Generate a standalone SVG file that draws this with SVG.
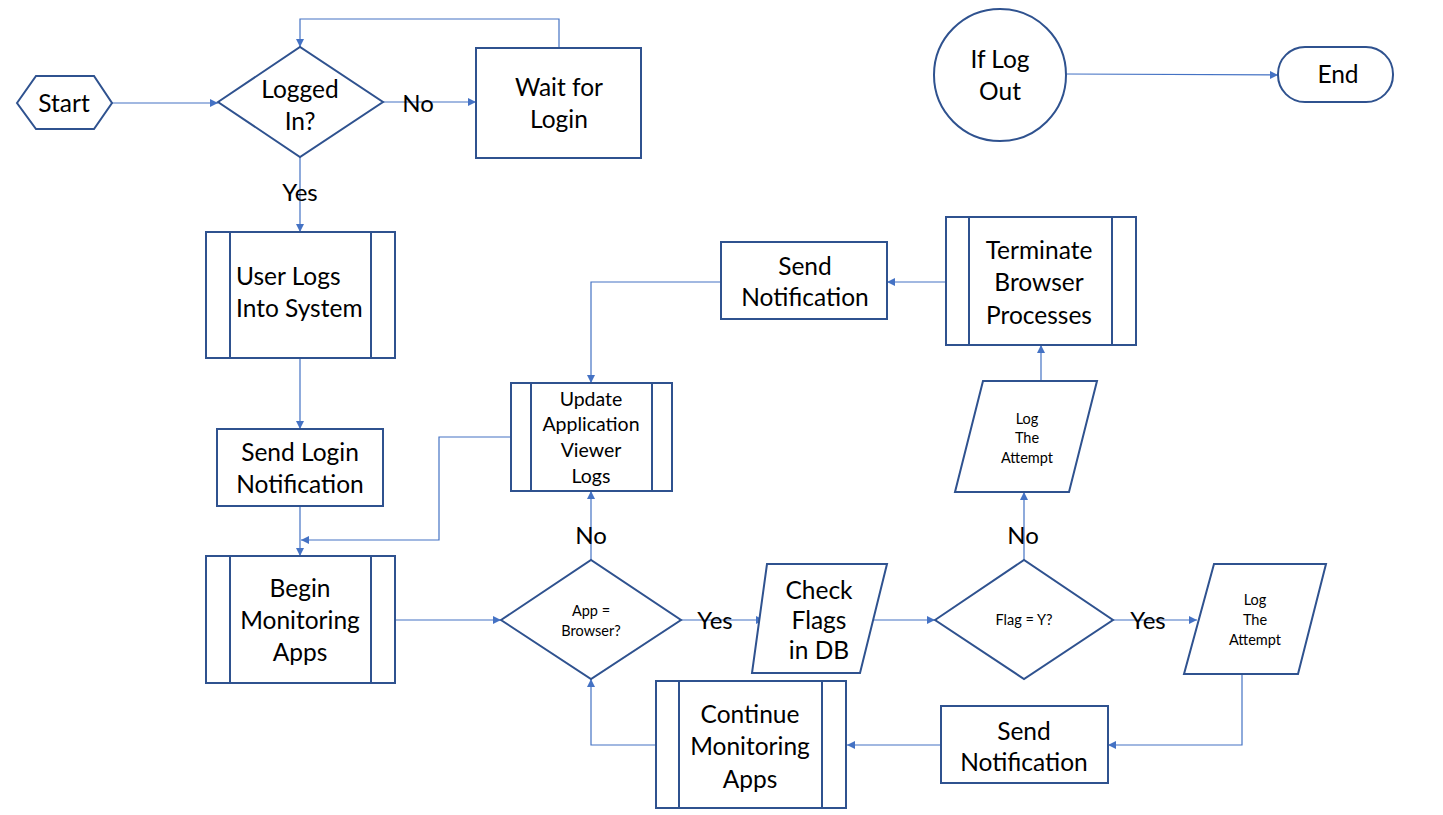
<svg xmlns="http://www.w3.org/2000/svg" width="1443" height="815" viewBox="0 0 1443 815">
<style>
.n{fill:#fff;stroke:#2F528F;stroke-width:2}
.il{stroke:#2F528F;stroke-width:2;fill:none}
.c{fill:none;stroke:#4472C4;stroke-width:1.2}
text{font-family:Lato,"Liberation Sans",sans-serif;fill:#000;text-anchor:middle;dominant-baseline:central}
.b{font-size:24.5px}
.m{font-size:19.5px}
.s{font-size:14.5px}
.l{font-size:24px}
</style>
<defs>
<marker id="a" viewBox="0 0 10 10" refX="10" refY="5" markerWidth="8" markerHeight="8" markerUnits="userSpaceOnUse" orient="auto">
<path d="M0,0 L10,5 L0,10 z" fill="#4472C4"/>
</marker>
</defs>
<rect width="1443" height="815" fill="#fff"/>
<g id="connectors">
<path class="c" d="M112,103 H218" marker-end="url(#a)"/>
<path class="c" d="M383,102 H476" marker-end="url(#a)"/>
<path class="c" d="M559,48 V19 H300 V47" marker-end="url(#a)"/>
<path class="c" d="M300,157 V232" marker-end="url(#a)"/>
<path class="c" d="M300,358 V429" marker-end="url(#a)"/>
<path class="c" d="M300,506 V556" marker-end="url(#a)"/>
<path class="c" d="M511,437 H439 V540 H301" marker-end="url(#a)"/>
<path class="c" d="M395,620 H501" marker-end="url(#a)"/>
<path class="c" d="M681,620 H764" marker-end="url(#a)"/>
<path class="c" d="M872,620 H935" marker-end="url(#a)"/>
<path class="c" d="M1113,620 H1197" marker-end="url(#a)"/>
<path class="c" d="M1242,674 V745 H1108" marker-end="url(#a)"/>
<path class="c" d="M941,745 H847" marker-end="url(#a)"/>
<path class="c" d="M656,745 H591 V679" marker-end="url(#a)"/>
<path class="c" d="M591,560 V491" marker-end="url(#a)"/>
<path class="c" d="M721,282 H591 V383" marker-end="url(#a)"/>
<path class="c" d="M946,282 H887" marker-end="url(#a)"/>
<path class="c" d="M1041,381 V345" marker-end="url(#a)"/>
<path class="c" d="M1024,560 V492" marker-end="url(#a)"/>
<path class="c" d="M1066,74 L1278,75" marker-end="url(#a)"/>
<text class="l" x="418" y="102">No</text>
<text class="l" x="300" y="191">Yes</text>
<text class="l" x="591" y="534">No</text>
<text class="l" x="715" y="619">Yes</text>
<text class="l" x="1023" y="534">No</text>
<text class="l" x="1148" y="619">Yes</text>
</g>
<g id="start">
<polygon class="n" points="17,103 36,76 94,76 112,103 94,129 36,129"/>
<text class="b" x="64" y="102">Start</text>
</g>
<g id="logged-in">
<polygon class="n" points="218,102 300,47 383,102 300,157"/>
<text class="b" x="300" y="88">Logged</text>
<text class="b" x="300" y="120">In?</text>
</g>
<g id="wait-login">
<rect class="n" x="476" y="48" width="165" height="110"/>
<text class="b" x="559" y="86">Wait for</text>
<text class="b" x="559" y="118">Login</text>
</g>
<g id="user-logs">
<rect class="n" x="206" y="232" width="189" height="126"/>
<path class="il" d="M230,232 V358 M371,232 V358"/>
<text class="b" x="236" y="275" style="text-anchor:start">User Logs</text>
<text class="b" x="236" y="307" style="text-anchor:start">Into System</text>
</g>
<g id="send-login">
<rect class="n" x="217" y="429" width="166" height="77"/>
<text class="b" x="300" y="451">Send Login</text>
<text class="b" x="300" y="483">Notification</text>
</g>
<g id="begin-monitoring">
<rect class="n" x="206" y="556" width="189" height="127"/>
<path class="il" d="M230,556 V683 M371,556 V683"/>
<text class="b" x="300" y="587">Begin</text>
<text class="b" x="300" y="619">Monitoring</text>
<text class="b" x="300" y="651">Apps</text>
</g>
<g id="app-browser">
<polygon class="n" points="501,620 591,560 681,620 591,679"/>
<text class="s" x="591" y="610">App =</text>
<text class="s" x="591" y="630">Browser?</text>
</g>
<g id="check-flags">
<polygon class="n" points="767,564 887,564 860,673 752,673"/>
<text class="b" x="819" y="589">Check</text>
<text class="b" x="819" y="619">Flags</text>
<text class="b" x="819" y="649">in DB</text>
</g>
<g id="flag-y">
<polygon class="n" points="935,620 1024,560 1113,620 1024,679"/>
<text class="s" x="1024" y="619">Flag = Y?</text>
</g>
<g id="log-attempt-2">
<polygon class="n" points="1214,564 1326,564 1298,674 1184,674"/>
<text class="s" x="1255" y="599">Log</text>
<text class="s" x="1255" y="619">The</text>
<text class="s" x="1255" y="639">Attempt</text>
</g>
<g id="send-notification-2">
<rect class="n" x="941" y="706" width="167" height="77"/>
<text class="b" x="1024" y="730">Send</text>
<text class="b" x="1024" y="761">Notification</text>
</g>
<g id="continue-monitoring">
<rect class="n" x="656" y="681" width="190" height="127"/>
<path class="il" d="M679,681 V808 M822,681 V808"/>
<text class="b" x="750" y="713">Continue</text>
<text class="b" x="750" y="745">Monitoring</text>
<text class="b" x="750" y="778">Apps</text>
</g>
<g id="update-logs">
<rect class="n" x="511" y="383" width="161" height="108"/>
<path class="il" d="M531,383 V491 M652,383 V491"/>
<text class="m" x="591" y="398">Update</text>
<text class="m" x="591" y="423">Application</text>
<text class="m" x="591" y="449">Viewer</text>
<text class="m" x="591" y="475">Logs</text>
</g>
<g id="send-notification-1">
<rect class="n" x="721" y="242" width="166" height="77"/>
<text class="b" x="805" y="265">Send</text>
<text class="b" x="805" y="296">Notification</text>
</g>
<g id="terminate">
<rect class="n" x="946" y="217" width="190" height="128"/>
<path class="il" d="M969,217 V345 M1112,217 V345"/>
<text class="b" x="1039" y="249">Terminate</text>
<text class="b" x="1039" y="281">Browser</text>
<text class="b" x="1039" y="314">Processes</text>
</g>
<g id="log-attempt-1">
<polygon class="n" points="983,381 1097,381 1069,492 955,492"/>
<text class="s" x="1027" y="418">Log</text>
<text class="s" x="1027" y="437">The</text>
<text class="s" x="1027" y="457">Attempt</text>
</g>
<g id="if-logout">
<circle class="n" cx="1000" cy="75" r="66"/>
<text class="b" x="1000" y="58">If Log</text>
<text class="b" x="1000" y="90">Out</text>
</g>
<g id="end">
<rect class="n" x="1278" y="47" width="115" height="55" rx="27" ry="27"/>
<text class="b" x="1338" y="73">End</text>
</g>
</svg>
